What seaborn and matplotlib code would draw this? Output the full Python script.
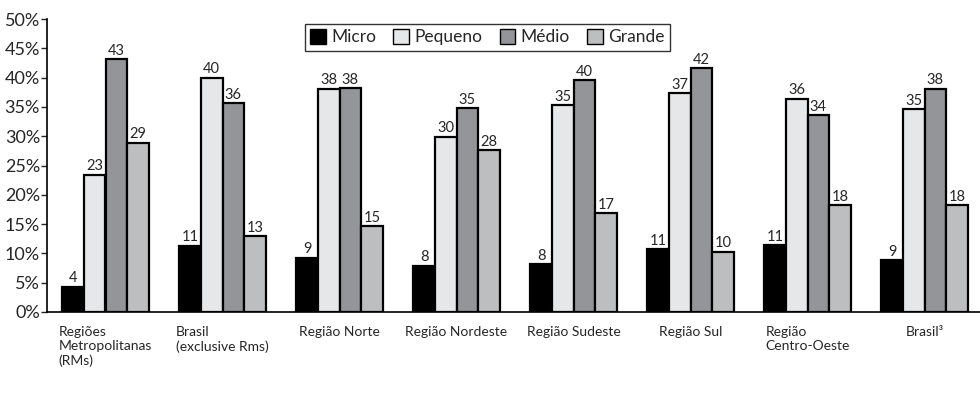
import matplotlib
matplotlib.use('Agg')
import pandas as pd
import seaborn as sns
import matplotlib.pyplot as plt
from matplotlib.ticker import FixedLocator

# categories and series (percent)
regioes = ['Regiões\nMetropolitanas\n(RMs)', 'Brasil\n(exclusive Rms)', 'Região Norte',
           'Região Nordeste', 'Região Sudeste', 'Região Sul',
           'Região\nCentro-Oeste', 'Brasil³']
portes = ['Micro', 'Pequeno', 'Médio', 'Grande']

micro = [4.3, 11.3, 9.3, 7.9, 8.2, 10.7, 11.4, 8.8]
pequeno = [23.4, 40.0, 38.1, 29.9, 35.3, 37.3, 36.4, 34.6]
medio = [43.1, 35.6, 38.2, 34.8, 39.6, 41.6, 33.6, 38.1]
grande = [28.9, 12.9, 14.6, 27.6, 16.9, 10.3, 18.2, 18.2]

yticks = list(range(0, 55, 5))
ytick_labels = [f'{v}%' for v in yticks]

cores = ['#000000', '#e6e7e8', '#939598', '#bcbec0']

rows = []
for porte, serie in zip(portes, [micro, pequeno, medio, grande]):
    for reg, val in zip(regioes, serie):
        rows.append({'regiao': reg, 'porte': porte, 'valor': val})
df = pd.DataFrame(rows)

sns.set_style('white')
plt.rcParams['font.family'] = ['Lato', 'DejaVu Sans']

fig = plt.figure(figsize=(9.8, 4.01), dpi=100)
ax = fig.add_axes([47 / 980, 89 / 401, 936 / 980, 293 / 401])

sns.barplot(data=df, x='regiao', y='valor', hue='porte', order=regioes, hue_order=portes,
            palette=cores, width=0.74, edgecolor='black', linewidth=1.6, saturation=1,
            ax=ax, legend=False)

for c in ax.containers:
    ax.bar_label(c, fmt='%.0f', padding=1, fontsize=10.5)

ax.set_ylim(0, 50)
ax.set_xlim(-0.5, 7.5)
ax.set_yticks(yticks)
ax.set_yticklabels(ytick_labels, fontsize=13)
ax.set_xlabel('')
ax.set_ylabel('')
ax.set_xticks(range(len(regioes)))
ax.set_xticklabels(regioes, fontsize=10, multialignment='left', va='top')
ax.tick_params(axis='x', which='major', length=0, pad=10)
ax.xaxis.set_minor_locator(FixedLocator([i + 0.5 for i in range(len(regioes) - 1)]))
ax.tick_params(axis='x', which='minor', length=4, direction='out', width=1, color='#555555')
ax.tick_params(axis='y', length=4, direction='out', width=1, left=True, pad=1)

sns.despine(ax=ax)
for s in ['left', 'bottom']:
    ax.spines[s].set_color('black')
    ax.spines[s].set_linewidth(1.2)

handles = [plt.Rectangle((0, 0), 1, 1, facecolor=c, edgecolor='black', linewidth=1) for c in cores]
leg = fig.legend(handles, portes, loc='upper left', bbox_to_anchor=(305 / 980, 1 - 24 / 401),
                 ncol=4, fontsize=12.5, frameon=True, fancybox=False, edgecolor='black',
                 handlelength=0.9, handleheight=0.9, handletextpad=0.3, columnspacing=1.0,
                 borderpad=0.3, borderaxespad=0)
leg.get_frame().set_linewidth(1.0)

fig.savefig('out.png', dpi=100)
